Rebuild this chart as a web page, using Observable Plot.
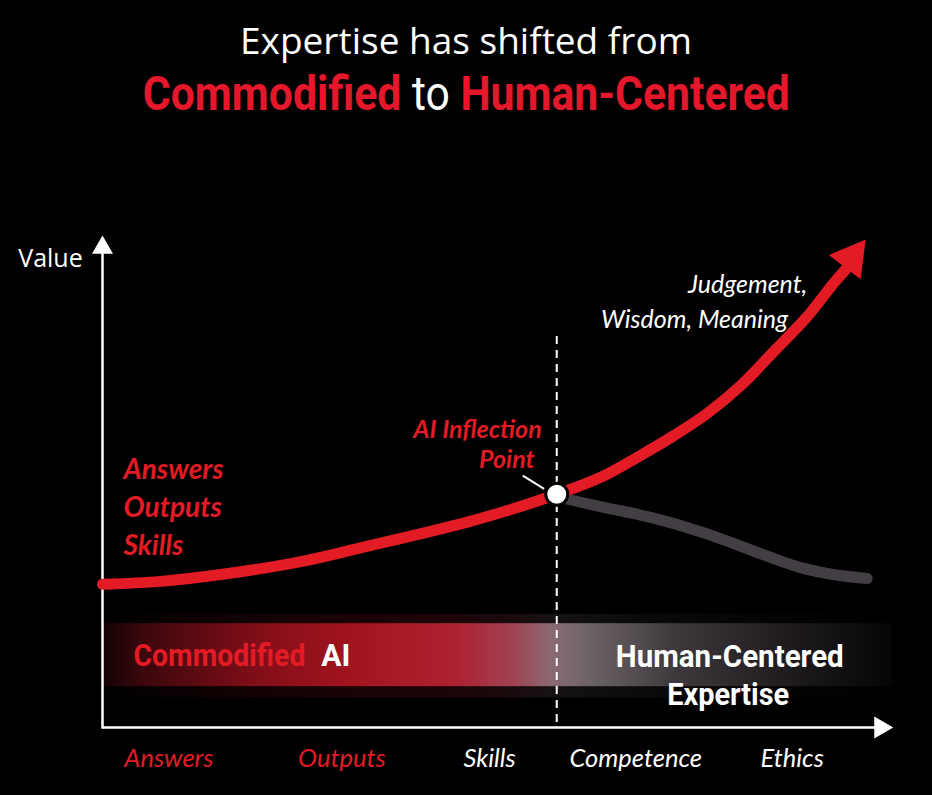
<!DOCTYPE html>
<html>
<head>
<meta charset="utf-8">
<script src="https://cdn.jsdelivr.net/npm/d3@7"></script>
<script src="https://cdn.jsdelivr.net/npm/@observablehq/plot@0.6"></script>
<style>
  html, body { margin: 0; padding: 0; background: #000; }
  #wrap { width: 932px; height: 795px; position: relative; background: #000; overflow: hidden; }
  #title { position: relative; width: 932px; height: 130px; }
  .t1 { position: absolute; left: 0; width: 932px; top: 21px; text-align: center; color: #fff;
        font-family: "Open Sans", sans-serif; font-size: 37px; line-height: 37px; }
  .t2 { position: absolute; left: 0; width: 932px; top: 70px; text-align: center; color: #fff;
        font-family: Roboto, sans-serif; font-weight: bold; font-size: 49px; line-height: 48px; }
  .t2 .inner { display: inline-block; white-space: pre; transform-origin: 50% 50%; }
  .t2 .red { color: #e4172b; }
  .t2 .white { font-weight: normal; }
  #chart svg { display: block; }
</style>
</head>
<body>
<div id="wrap">
  <div id="title"></div>
  <div id="chart"></div>
</div>
<script>
// ---------- data ----------
const titleLine1 = "Expertise has shifted from";
const titleLine2 = [["Commodified", true], [" to ", false], ["Human-Centered", true]];

const xTickLabels = ["Answers", "Outputs", "Skills", "Competence", "Ethics"];
const xTickPos    = [8.4, 30.3, 49.0, 67.5, 87.3];
const xTickRed    = [true, true, false, false, false];

// red curve (last point = arrow tip)
const redX = [0, 7.3, 15.9, 25.1, 32.9, 45.6, 51.7, 57.5, 63.0, 68.1, 72.3, 76.6, 80.8, 84.9, 89.2, 92.5, 94.3, 96.6];
const redY = [29.1, 29.7, 31.3, 33.7, 36.6, 41.5, 44.3, 47.4, 50.8, 55.3, 59.3, 63.9, 69.5, 76.3, 83.5, 90.2, 93.5, 99.2];

// gray curve
const grayX = [57.5, 63.0, 69.4, 75.7, 79.9, 84.2, 88.4, 92.5, 96.8];
const grayY = [46.9, 44.9, 42.7, 39.8, 37.4, 34.8, 32.5, 31.1, 30.3];

const inflectionX = 57.5;
const inflectionY = 47.4;

const leftLabels = ["Answers", "Outputs", "Skills"];
const leftLabelY = [50.6, 42.7, 35.0];

const topLabels = ["Judgement,", "Wisdom, Meaning"];
const topLabelX = [89.2, 86.8];
const topLabelY = [88.4, 81.1];

// ---------- title ----------
const title = document.getElementById("title");
const t1 = document.createElement("div"); t1.className = "t1"; t1.textContent = titleLine1; title.appendChild(t1);
const t2 = document.createElement("div"); t2.className = "t2";
const t2in = document.createElement("span"); t2in.className = "inner";
titleLine2.forEach(([s, red]) => {
  const sp = document.createElement("span");
  sp.textContent = s;
  sp.className = red ? "red" : "white";
  t2in.appendChild(sp);
});
t2.appendChild(t2in);
title.appendChild(t2);
t2in.style.transform = `scaleX(${647 / t2in.getBoundingClientRect().width})`;

// ---------- scales / geometry ----------
const W = 932, H = 665;
const mL = 102, mR = 40, mT = 105, mB = 68;
const xs = Plot.scale({x: {domain: [0, 100], range: [mL, W - mR]}});
const ys = Plot.scale({y: {domain: [0, 100], range: [H - mB, mT]}});

const RED = "#e31b25";
const GRAY = "#433e43";
const italic = "Lato, 'Open Sans', sans-serif";
const narrow = "Roboto, sans-serif";

function head(tipX, tipY, fromX, fromY, side) {
  const tx = xs.apply(tipX), ty = ys.apply(tipY);
  const fx = xs.apply(fromX), fy = ys.apply(fromY);
  const len = Math.hypot(tx - fx, ty - fy);
  const ux = (tx - fx) / len, uy = (ty - fy) / len;
  const k = side / (2 * Math.sqrt(3));
  const cx = tx - ux * 2 * k, cy = ty - uy * 2 * k;
  const size = k * k * 3 * Math.sqrt(3);
  return {x: xs.invert(cx), y: ys.invert(cy), r: Math.sqrt(size / Math.PI), rotate: Math.atan2(ux, -uy) * 180 / Math.PI};
}
function headMark(h, fill) {
  return Plot.dot([h], {x: "x", y: "y", r: h.r, rotate: h.rotate, symbol: "triangle", fill, stroke: null});
}

const n = redX.length;
const redHead = head(redX[n - 1], redY[n - 1], redX[n - 4], redY[n - 4], 40);
const yHead = head(0, 100, 0, 0, 21);
const xHead = head(100.1, 0, 0, 0, 22);

const redLine = redX.slice(0, n - 1).map((x, i) => ({x, y: redY[i]}));
const grayLine = grayX.map((x, i) => ({x, y: grayY[i]}));
const ticks = xTickLabels.map((t, i) => ({t, x: xTickPos[i], red: xTickRed[i]}));
const lefts = leftLabels.map((t, i) => ({t, y: leftLabelY[i]}));
const tops = topLabels.map((t, i) => ({t, x: topLabelX[i], y: topLabelY[i]}));

// widths of the condensed bold band labels in the reference (px)
const narrowWidths = {"Commodified": 172, "AI": 29, "Human-Centered": 228, "Expertise": 122};

const chart = Plot.plot({
  width: W, height: H,
  marginLeft: mL, marginRight: mR, marginTop: mT, marginBottom: mB,
  x: {domain: [0, 100], axis: null},
  y: {domain: [0, 100], axis: null},
  style: {background: "#000", overflow: "visible"},
  marks: [
    Plot.rect([0], {x1: 3, x2: 97, y1: 6, y2: 23, fill: "url(#bandGrad)", fillOpacity: 0.16, ariaLabel: "band-glow"}),
    Plot.rect([0], {x1: 0, x2: 100, y1: 8.3, y2: 21.1, fill: "url(#bandGrad)", ariaLabel: "band"}),
    Plot.ruleX([0], {y1: -0.3, y2: 97, stroke: "#fff", strokeWidth: 2.5}),
    Plot.ruleY([0], {x1: 0, x2: 98, stroke: "#fff", strokeWidth: 2.5}),
    headMark(yHead, "#fff"),
    headMark(xHead, "#fff"),
    Plot.ruleX([inflectionX], {y1: 1, y2: 79.5, stroke: "#fff", strokeWidth: 2, strokeDasharray: "8,6"}),
    Plot.line(grayLine, {x: "x", y: "y", stroke: GRAY, strokeWidth: 11, curve: "catmull-rom"}),
    Plot.line(redLine, {x: "x", y: "y", stroke: RED, strokeWidth: 11, curve: "catmull-rom"}),
    headMark(redHead, RED),
    Plot.link([0], {x1: 53.2, y1: 51.2, x2: 55.9, y2: 48.5, stroke: "#fff", strokeWidth: 2}),
    Plot.dot([0], {x: inflectionX, y: inflectionY, r: 11, fill: "#fff", stroke: "#000", strokeWidth: 3}),
    Plot.text(["Value"], {x: -2.5, y: 93.5, text: d => d, textAnchor: "end", lineAnchor: "bottom",
      fill: "#fff", fontSize: 25, fontFamily: "'Open Sans', sans-serif"}),
    Plot.text(lefts, {x: 2.66, y: "y", text: "t", textAnchor: "start", lineAnchor: "bottom",
      fill: RED, fontSize: 28, fontWeight: "bold", fontStyle: "italic", fontFamily: italic}),
    Plot.text(["AI Inflection"], {x: 55.6, y: 58.9, text: d => d, textAnchor: "end", lineAnchor: "bottom",
      fill: RED, fontSize: 25, fontWeight: "bold", fontStyle: "italic", fontFamily: italic}),
    Plot.text(["Point"], {x: 54.7, y: 52.8, text: d => d, textAnchor: "end", lineAnchor: "bottom",
      fill: RED, fontSize: 25, fontWeight: "bold", fontStyle: "italic", fontFamily: italic}),
    Plot.text(tops, {x: "x", y: "y", text: "t", textAnchor: "end", lineAnchor: "bottom",
      fill: "#fff", fontSize: 25, fontStyle: "italic", fontFamily: italic}),
    Plot.text(["Commodified"], {x: 3.92, y: 12.4, text: d => d, textAnchor: "start", lineAnchor: "bottom",
      fill: RED, fontSize: 32, fontWeight: "bold", fontFamily: narrow}),
    Plot.text(["AI"], {x: 27.7, y: 12.4, text: d => d, textAnchor: "start", lineAnchor: "bottom",
      fill: "#fff", fontSize: 32, fontWeight: "bold", fontFamily: narrow}),
    Plot.text(["Human-Centered"], {x: 79.4, y: 12.2, text: d => d, textAnchor: "middle", lineAnchor: "bottom",
      fill: "#fff", fontSize: 32, fontWeight: "bold", fontFamily: narrow}),
    Plot.text(["Expertise"], {x: 79.2, y: 4.6, text: d => d, textAnchor: "middle", lineAnchor: "bottom",
      fill: "#fff", fontSize: 32, fontWeight: "bold", fontFamily: narrow}),
    Plot.text(ticks.filter(d => d.red), {x: "x", y: -8.1, text: "t", textAnchor: "middle", lineAnchor: "bottom",
      fill: RED, fontSize: 25.5, fontStyle: "italic", fontFamily: italic}),
    Plot.text(ticks.filter(d => !d.red), {x: "x", y: -8.1, text: "t", textAnchor: "middle", lineAnchor: "bottom",
      fill: "#fff", fontSize: 25.5, fontStyle: "italic", fontFamily: italic})
  ]
});

const svg = d3.select(chart);
const defs = svg.insert("defs", ":first-child");
const grad = defs.append("linearGradient").attr("id", "bandGrad")
  .attr("x1", "0").attr("x2", "1").attr("y1", "0").attr("y2", "0");
[
  [0.00, "#140204"], [0.05, "#3a070c"], [0.20, "#820e18"], [0.32, "#a3141f"],
  [0.45, "#ad2232"], [0.52, "#a04252"], [0.57, "#8a6a73"], [0.62, "#6b6267"],
  [0.72, "#403a3e"], [0.85, "#221e21"], [1.00, "#060506"]
].forEach(([o, c]) => grad.append("stop").attr("offset", o).attr("stop-color", c));
const f1 = defs.append("filter").attr("id", "glowBlur").attr("x", "-30%").attr("y", "-150%").attr("width", "160%").attr("height", "400%");
f1.append("feGaussianBlur").attr("stdDeviation", 24);
const f2 = defs.append("filter").attr("id", "bandBlur").attr("x", "-5%").attr("y", "-30%").attr("width", "110%").attr("height", "160%");
f2.append("feGaussianBlur").attr("stdDeviation", "3 1.2");
svg.select('g[aria-label="band-glow"]').attr("filter", "url(#glowBlur)");
svg.select('g[aria-label="band"]').attr("filter", "url(#bandBlur)");

document.getElementById("chart").appendChild(chart);

// condense the bold band labels horizontally to the reference widths
svg.selectAll("text").each(function () {
  const w = narrowWidths[this.textContent];
  if (!w) return;
  const natural = this.getComputedTextLength();
  if (!natural) return;
  const k = w / natural;
  const t = this.getAttribute("transform") || "";
  this.setAttribute("transform", `${t} scale(${k},1)`);
});
</script>
</body>
</html>
